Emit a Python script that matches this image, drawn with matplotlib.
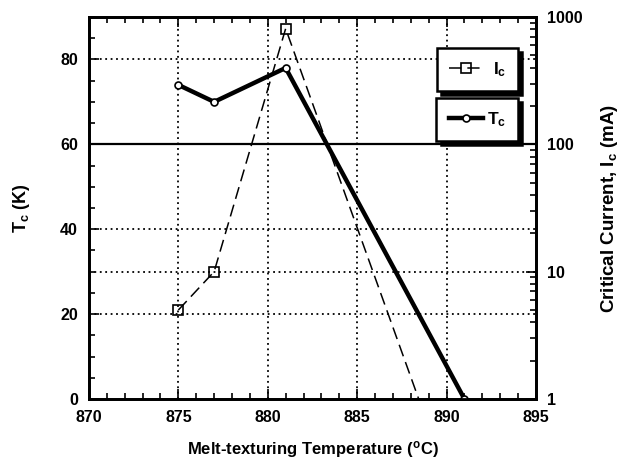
import matplotlib
matplotlib.use('Agg')
import matplotlib.pyplot as plt
from matplotlib.ticker import MultipleLocator, LogLocator, NullFormatter

plt.rcParams['font.family'] = ['Liberation Sans', 'DejaVu Sans']
plt.rcParams['font.weight'] = 'bold'
plt.rcParams['mathtext.fontset'] = 'custom'
plt.rcParams['mathtext.rm'] = 'Liberation Sans:bold'
plt.rcParams['mathtext.it'] = 'Liberation Sans:bold'
plt.rcParams['mathtext.default'] = 'rm'

# melt-texturing temperature (C)
temp_tc = [875, 877, 881, 891]
tc = [74, 70, 78, 0]          # K
temp_ic = [875, 877, 881, 891]
ic = [5.0, 10.0, 810.0, 0.1]  # mA

fig = plt.figure(figsize=(6.24, 4.63), dpi=100)
ax = fig.add_axes([0.1426, 0.1382, 0.7163, 0.8251])
ax2 = ax.twinx()

ax.set_xlim(870, 895)
ax.set_ylim(0, 90)
ax2.set_yscale('log')
ax2.set_ylim(1, 1000)

# grid
for x in [875, 880, 885, 890]:
    ax.axvline(x, color='black', lw=1.3, ls=(0, (1, 2)), zorder=1)
for y in [20, 40, 80]:
    ax.axhline(y, color='black', lw=1.3, ls=(0, (1, 2)), zorder=1)
ax2.axhline(10, color='black', lw=1.3, ls=(0, (1, 2)), zorder=1)
ax2.axhline(100, color='black', lw=1.6, ls='-', zorder=1)

ln_tc, = ax.plot(temp_tc, tc, color='black', lw=3.2, marker='o', ms=5,
                 mfc='white', mec='black', mew=1.2, label='T$_c$', zorder=3)
ln_ic, = ax2.plot(temp_ic, ic, color='black', lw=1.1, ls=(0, (8, 4)), marker='s',
                  ms=7, mfc='none', mec='black', mew=1.2, label='I$_c$', zorder=3)

# ticks
ax.xaxis.set_major_locator(MultipleLocator(5))
ax.xaxis.set_minor_locator(MultipleLocator(1))
ax.yaxis.set_major_locator(MultipleLocator(20))
ax.yaxis.set_minor_locator(MultipleLocator(5))
ax.tick_params(which='both', direction='in', top=True, width=1.2)
ax.tick_params(which='major', length=7, labelsize=11.5, pad=8)
ax.tick_params(which='minor', length=4)
ax.tick_params(axis='y', right=False)
ax2.yaxis.set_minor_locator(LogLocator(base=10, subs=range(2, 10), numticks=10))
ax2.yaxis.set_minor_formatter(NullFormatter())
ax2.set_yticks([1, 10, 100, 1000])
ax2.set_yticklabels(['1', '10', '100', '1000'])
ax2.tick_params(which='both', direction='in', width=1.2)
ax2.tick_params(which='major', length=7, labelsize=11.5, pad=8)
ax2.tick_params(which='minor', length=4)

for a in (ax, ax2):
    for s in a.spines.values():
        s.set_linewidth(2)

ax.set_xlabel('Melt-texturing Temperature ($^{\\rm o}$C)', fontsize=12, fontweight='bold', labelpad=10)
ax.set_ylabel('T$_c$ (K)', fontsize=13, fontweight='bold', labelpad=20)
ax2.set_ylabel('Critical Current, I$_c$ (mA)', fontsize=13.5, fontweight='bold', labelpad=12)

# two separate legend boxes with a hard shadow
shadow = {'color': 'black', 'alpha': 1, 'ox': 3, 'oy': -3}
leg1 = ax2.legend(handles=[ln_ic], loc='upper right', bbox_to_anchor=(0.96, 0.919),
                  fontsize=12.5, handlelength=2.0, handletextpad=0.5, borderpad=0.7,
                  borderaxespad=0, frameon=True, fancybox=False, shadow=shadow)
leg1.get_frame().set_edgecolor('black')
leg1.get_frame().set_linewidth(1.8)
leg1.get_frame().set_alpha(1)
ax2.add_artist(leg1)
leg2 = ax2.legend(handles=[ln_tc], loc='upper right', bbox_to_anchor=(0.96, 0.788),
                  fontsize=12.5, handlelength=2.0, handletextpad=0.2, borderpad=0.7,
                  borderaxespad=0, frameon=True, fancybox=False, shadow=shadow)
leg2.get_frame().set_edgecolor('black')
leg2.get_frame().set_linewidth(1.8)
leg2.get_frame().set_alpha(1)

fig.savefig('out.png', dpi=100)
